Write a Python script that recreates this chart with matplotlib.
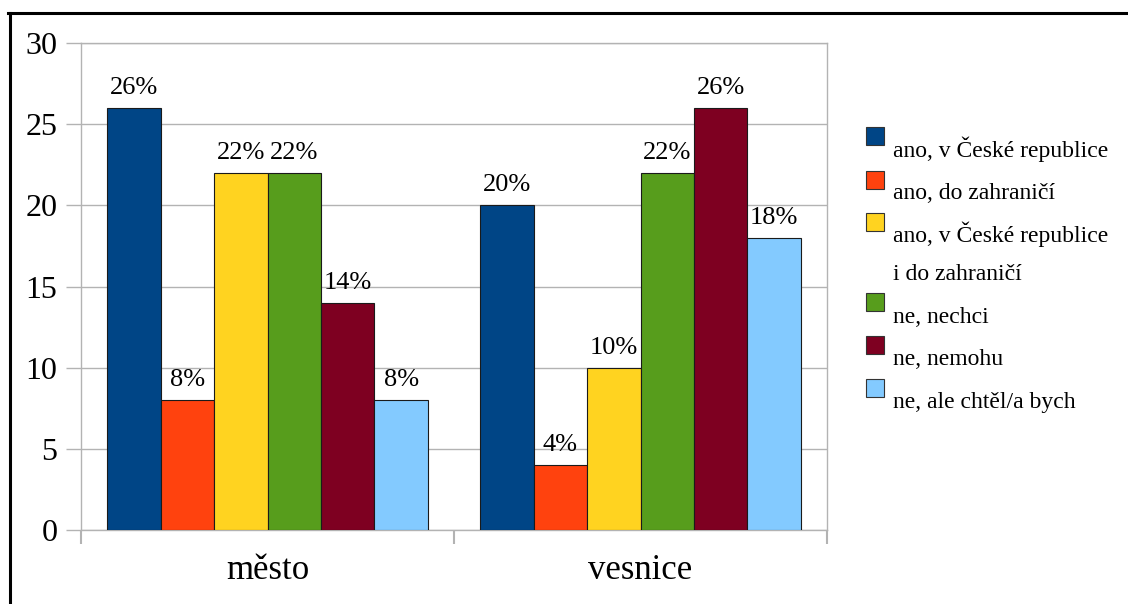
import matplotlib.pyplot as plt
import numpy as np
from matplotlib.patches import Rectangle
from matplotlib.lines import Line2D

plt.rcParams['font.family'] = ['Liberation Serif', 'DejaVu Serif']

# data
categories = ['město', 'vesnice']
series = ['ano, v České republice', 'ano, do zahraničí',
          'ano, v České republice\ni do zahraničí', 'ne, nechci',
          'ne, nemohu', 'ne, ale chtěl/a bych']
values = [[26, 20], [8, 4], [22, 10], [22, 22], [14, 26], [8, 18]]
colors = ['#004586', '#ff420e', '#ffd320', '#579d1c', '#7e0021', '#83caff']

W, H = 1128, 604
fig = plt.figure(figsize=(W / 100, H / 100), dpi=100)
ax = fig.add_axes([81 / W, 1 - 530 / H, (827 - 81) / W, (530 - 43) / H])

grey = '#b3b3b3'
x = np.arange(len(categories))
n = len(series)
bw = 0.86 / n
for i, (name, vals, c) in enumerate(zip(series, values, colors)):
    pos = x - 0.43 + bw * (i + 0.5)
    bars = ax.bar(pos, vals, bw, color=c, edgecolor='#1a1a1a', linewidth=0.8, zorder=3)
    for p, v in zip(pos, vals):
        ax.annotate('%d%%' % v, (p, v), xytext=(0, 9), textcoords='offset pixels',
                    ha='center', va='bottom', fontsize=19)

ax.set_xlim(-0.5, len(categories) - 0.5)
ax.set_ylim(0, 30)
ax.set_yticks(range(0, 31, 5))
ax.yaxis.grid(True, color=grey, linewidth=1.0, zorder=0)
ax.set_xticks(x)
ax.set_xticklabels(categories, fontsize=25)
ax.set_xticks(np.arange(-0.5, len(categories), 1), minor=True)
ax.tick_params(axis='x', which='major', length=0, pad=17)
ax.tick_params(axis='x', which='minor', length=10, color=grey, width=1.5)
ax.tick_params(axis='y', length=11, color=grey, width=1.0, labelsize=23, pad=6)
for s in ax.spines.values():
    s.set_color(grey)
    s.set_linewidth(1.0)

# legend drawn by hand, text sits below the colour box
box_top = [127, 171, 213, 293, 336, 379]
base = [157, 199, 242, 323, 365, 408]
for name, c, t, b in zip(series, colors, box_top, base):
    fig.add_artist(Rectangle((866 / W, 1 - (t + 18) / H), 18 / W, 18 / H,
                             facecolor=c, edgecolor='#333333', linewidth=0.8,
                             transform=fig.transFigure))
    for k, line in enumerate(name.split('\n')):
        fig.text(893 / W, 1 - (b + 38 * k) / H, line, fontsize=17, va='baseline', ha='left')

# frame on top and left
fig.add_artist(Line2D([9.5 / W, 9.5 / W], [0, 1 - 12.5 / H], color='black', linewidth=2.2,
                      transform=fig.transFigure))
fig.add_artist(Line2D([8 / W, 1], [1 - 12.5 / H, 1 - 12.5 / H], color='black', linewidth=2.2,
                      transform=fig.transFigure))

fig.savefig('out.png', dpi=100)
